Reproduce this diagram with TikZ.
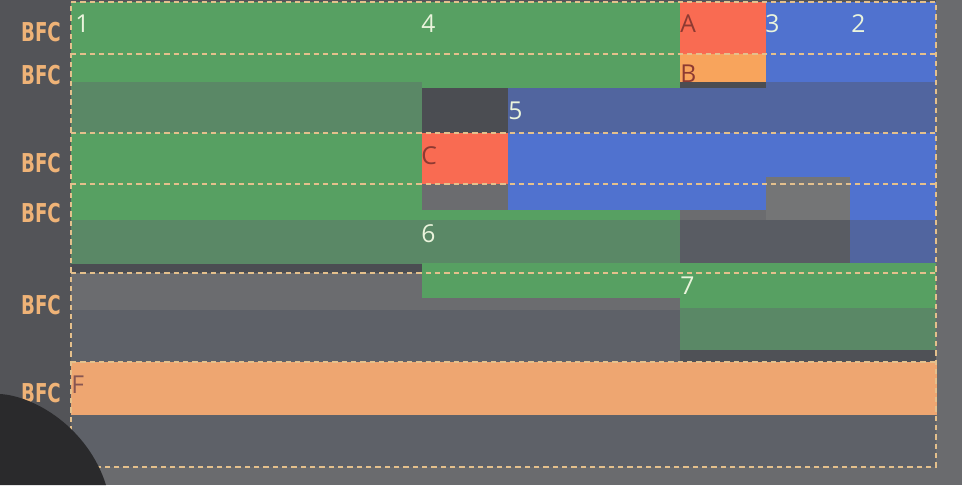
\documentclass[tikz,border=0pt]{standalone}
\usepackage{fontspec}
\usepackage{graphicx}
\setmainfont{Open Sans}
\newfontfamily\bfcfont{DejaVu Sans}
\definecolor{bgleft}{HTML}{535458}
\definecolor{bgright}{HTML}{6A6B6E}
\definecolor{inner}{HTML}{5E6168}
\definecolor{midgray}{HTML}{6B6C6F}
\definecolor{darkbox}{HTML}{4B4D52}
\definecolor{lgray}{HTML}{747576}
\definecolor{greenL}{HTML}{57A062}
\definecolor{greenD}{HTML}{5A8866}
\definecolor{redA}{HTML}{F96B52}
\definecolor{orangeB}{HTML}{F8A45C}
\definecolor{orangeF}{HTML}{EEA671}
\definecolor{blueL}{HTML}{5072CF}
\definecolor{blueD}{HTML}{51659F}
\definecolor{dashc}{HTML}{E4C08C}
\definecolor{bfcc}{HTML}{EFB377}
\definecolor{numc}{HTML}{EAF4DC}
\definecolor{letc}{HTML}{8E3A32}
\definecolor{headc}{HTML}{2A2A2C}
\tikzset{
  bfcline/.style={draw=dashc, line width=1.3pt, dash pattern=on 4pt off 3pt},
  bfclabel/.style={text=bfcc, font=\bfcfont\bfseries\fontsize{19.5}{19.5}\selectfont, inner sep=0pt, anchor=center},
  numlabel/.style={text=numc, font=\fontsize{18.5}{18.5}\selectfont, inner sep=0pt, anchor=base west},
  letlabel/.style={text=letc, font=\fontsize{18.5}{18.5}\selectfont, inner sep=0pt, anchor=base west}
}
\begin{document}
\begin{tikzpicture}[x=0.75pt, y=-0.75pt]
\useasboundingbox (0,0) rectangle (962,485);
% backgrounds
\fill[bgleft] (0,0) rectangle (962,485);
\fill[bgright] (936,0) rectangle (962,485);
\fill[bgright] (71,467) rectangle (962,485);
\fill[inner] (71,2) rectangle (936,467);
% gray areas
\fill[midgray] (71,273) rectangle (680,310);
% row 1-2
\fill[blueD] (508,82) rectangle (936,133);
\fill[greenL] (71,2) rectangle (680,88);
\fill[greenD] (71,82) rectangle (422,133);
\fill[darkbox] (422,88) rectangle (508,133);
\fill[redA] (680,2) rectangle (766,54);
\fill[orangeB] (680,54) rectangle (766,82);
\fill[darkbox] (680,82) rectangle (766,88);
\fill[blueL] (766,2) rectangle (936,82);
% row 3-4
\fill[greenL] (71,133) rectangle (422,220);
\fill[redA] (422,133) rectangle (508,184);
\fill[blueL] (508,133) rectangle (936,210);
\fill[blueL] (850,133) rectangle (936,220);
\fill[midgray] (422,184) rectangle (508,210);
\fill[midgray] (680,210) rectangle (766,220);
\fill[lgray] (766,177) rectangle (850,220);
\fill[greenD] (71,220) rectangle (422,264);
\fill[darkbox] (71,264) rectangle (422,273);
\fill[greenL] (422,210) rectangle (680,220);
\fill[greenD] (422,220) rectangle (680,263);
\fill[greenL] (422,263) rectangle (680,298);
\fill[midgray] (422,298) rectangle (680,308);
\fill[inner!95!black] (680,220) rectangle (850,263);
\fill[blueD] (850,220) rectangle (936,263);
\fill[greenL] (680,263) rectangle (936,308);
\fill[greenD] (680,308) rectangle (936,350);
\fill[darkbox!80!inner] (680,350) rectangle (936,362);
% F
\fill[orangeF] (71,362) rectangle (937,415);
% dashed BFC boundaries
\coordinate (tl) at (71,2);
\coordinate (tr) at (936,2);
\coordinate (bl) at (71,467);
\coordinate (br) at (936,467);
\foreach \yy in {54,133,184,273,362} {
  \draw[bfcline] (71,\yy) -- (936,\yy);
}
\draw[bfcline] (tl) -- (tr) -- (br) -- (bl) -- cycle;
% labels
\node[numlabel] (n1) at (75,33) {1};
\node[numlabel] (n4) at (421,33) {4};
\node[letlabel] (nA) at (680,33) {A};
\node[numlabel] (n3) at (765,33) {3};
\node[numlabel] (n2) at (851,33) {2};
\node[letlabel] (nB) at (680,83) {B};
\node[numlabel] (n5) at (508,119) {5};
\node[letlabel] (nC) at (421,164) {C};
\node[numlabel] (n6) at (421,242) {6};
\node[numlabel] (n7) at (680,294) {7};
\node[letlabel, text=letc!60!gray] (nF) at (71,393) {F};
% BFC tags
\node[bfclabel] (b1) at (41,32) {\scalebox{0.7}[1]{BFC}};
\node[bfclabel] (b2) at (41,75) {\scalebox{0.7}[1]{BFC}};
\node[bfclabel] (b3) at (41,163) {\scalebox{0.7}[1]{BFC}};
\node[bfclabel] (b4) at (41,213) {\scalebox{0.7}[1]{BFC}};
\node[bfclabel] (b5) at (41,305) {\scalebox{0.7}[1]{BFC}};
\node[bfclabel] (b6) at (41,393) {\scalebox{0.7}[1]{BFC}};
% head in the corner
\fill[headc] (0,394) .. controls (35,396) and (88,428) .. (106,485) -- (0,485) -- cycle;
\end{tikzpicture}
\end{document}
